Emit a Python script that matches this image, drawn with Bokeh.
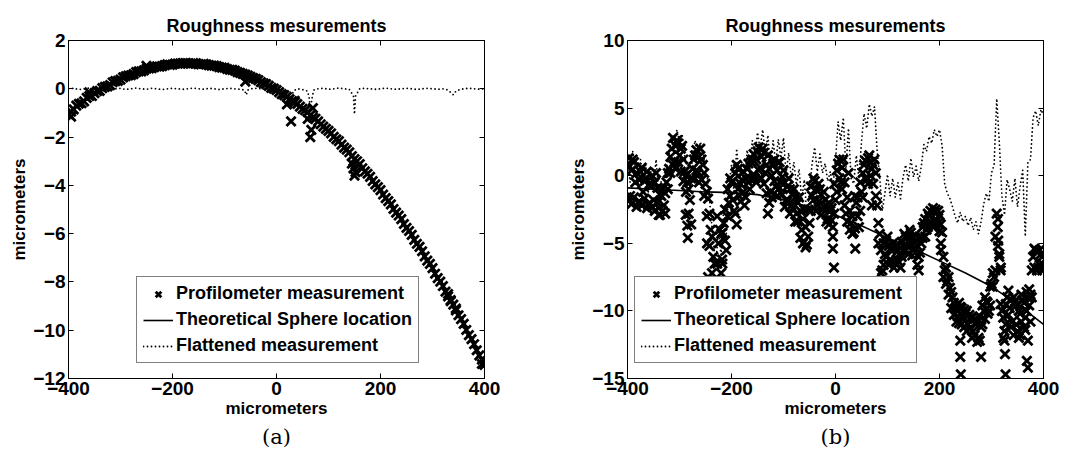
from bokeh.plotting import figure
from bokeh.models import Range1d, LinearAxis, FixedTicker, Legend, LegendItem, Title
from bokeh.layouts import row
from bokeh.embed import file_html
from bokeh.resources import INLINE

FONT = "Liberation Sans"
MINUS = "\u2212"

# ---------------- Panel (a) data ----------------
a_meas_x = list(range(-400, 401, 10))
a_meas_y = [-1.05, -0.85, -0.62, -0.52, -0.30, -0.18, -0.09, 0.08, 0.15, 0.32,
            0.38, 0.52, 0.56, 0.69, 0.72, 0.83, 0.85, 0.93, 0.94, 1.01,
            1.00, 1.04, 1.06, 1.04, 1.06, 1.02, 1.03, 0.98, 0.96, 0.90,
            0.87, 0.79, 0.75, 0.66, 0.59, 0.49, 0.41, 0.28, 0.19, 0.04,
            -0.05, -0.22, -0.33, -0.51, -0.63, -0.83, -0.97, -1.19, -1.35, -1.57,
            -1.74, -1.99, -2.17, -2.44, -2.63, -2.91, -3.12, -3.42, -3.65, -3.96,
            -4.20, -4.53, -4.79, -5.13, -5.40, -5.76, -6.05, -6.42, -6.73, -7.12,
            -7.43, -7.84, -8.17, -8.60, -8.94, -9.38, -9.74, -10.20, -10.58, -11.04,
            -11.44]
a_meas2_x = list(range(-395, 400, 10))
a_meas2_y = [-0.95, -0.70, -0.60, -0.38, -0.30, -0.10, 0.03, 0.10, 0.27, 0.33,
             0.47, 0.55, 0.61, 0.72, 0.76, 0.84, 0.90, 0.92, 0.98, 0.99,
             1.04, 1.05, 1.06, 1.04, 1.05, 1.01, 1.01, 0.96, 0.94, 0.88,
             0.82, 0.78, 0.69, 0.62, 0.55, 0.44, 0.36, 0.23, 0.12, 0.01,
             -0.14, -0.26, -0.43, -0.56, -0.74, -0.89, -1.10, -1.24, -1.47, -1.66,
             -1.85, -2.09, -2.31, -2.52, -2.79, -3.00, -3.29, -3.52, -3.82, -4.07,
             -4.38, -4.65, -4.98, -5.25, -5.60, -5.89, -6.26, -6.55, -6.94, -7.25,
             -7.66, -7.99, -8.40, -8.75, -9.18, -9.54, -9.99, -10.37, -10.83, -11.22]
a_extra_x = [-395, -360, -250, -60, 20, 28, 35, 60, 65, 67, 70, 145, 148, 150, 152, 330, 335, 345, 395]
a_extra_y = [-1.15, -0.15, 0.95, 0.30, -0.65, -1.35, -0.50, -1.25, -2.00, -1.70, -0.80, -3.10, -3.30,
             -3.60, -3.45, -8.50, -8.80, -9.10, -11.40]

a_theory_x = list(range(-400, 401, 25))
a_theory_y = [-0.99, -0.57, -0.20, 0.13, 0.40, 0.63, 0.80, 0.93, 1.02, 1.05, 1.03, 0.97, 0.86,
              0.70, 0.50, 0.24, -0.06, -0.41, -0.81, -1.26, -1.76, -2.30, -2.89, -3.53, -4.22,
              -4.96, -5.74, -6.57, -7.45, -8.38, -9.36, -10.39, -11.46]

a_flat_x = [-400, -390, -380, -370, -360, -350, -340, -330, -320, -310, -300, -290, -280, -270,
            -260, -250, -240, -230, -220, -210, -200, -190, -180, -170, -160, -150, -140, -130,
            -120, -110, -100, -90, -80, -70, -62, -58, -55, -50, -40, -30, -20, -10, 0, 10, 20,
            25, 28, 32, 40, 50, 60, 63, 65, 67, 69, 72, 80, 90, 100, 110, 120, 130, 140, 148,
            150, 152, 160, 170, 180, 190, 200, 210, 220, 230, 240, 250, 260, 270, 280, 290, 300,
            310, 320, 330, 335, 340, 345, 350, 360, 370, 380, 390, 400]
a_flat_y = [0.0, 0.02, -0.03, 0.0, 0.03, -0.02, 0.0, 0.02, -0.02, 0.0, 0.02, -0.03, 0.0, 0.03,
            0.0, -0.02, 0.02, 0.0, -0.03, 0.0, 0.02, 0.0, -0.02, 0.0, 0.03, 0.0, -0.02, 0.02,
            0.0, -0.03, 0.0, 0.02, 0.0, -0.02, -0.05, -0.25, -0.05, 0.0, 0.02, 0.0, -0.02, 0.0,
            0.02, -0.05, -0.15, -0.35, -0.55, -0.1, 0.0, -0.03, -0.1, -0.4, -0.95, -0.6, -0.3,
            -0.05, 0.0, 0.02, -0.02, 0.0, 0.03, 0.0, -0.02, -0.3, -1.05, -0.3, 0.0, 0.02, 0.0,
            -0.02, 0.0, 0.03, 0.0, -0.02, 0.0, 0.02, 0.0, -0.03, 0.0, 0.02, 0.0, -0.02, 0.0,
            -0.05, -0.15, -0.25, -0.1, -0.05, 0.0, 0.02, 0.0, -0.02, 0.0]

# ---------------- Panel (b) data ----------------
b_meas_x = list(range(-400, 401, 5))
b_meas_y = [0.8, -1.5, 1.2, -0.5, -2.0, 0.3, -1.2, -0.2, -2.2, -0.8,
            -1.8, 0.2, -2.4, -1.5, -2.2, -0.5, 0.5, 2.0, 1.0, 2.6,
            1.5, 2.2, 0.3, -0.5, -1.8, 0.5, 1.5, 0.2, 2.0, 0.8,
            -0.6, -1.7, -4.0, -6.0, -7.8, -5.0, -7.2, -3.5, -5.5, -2.0,
            -0.5, -2.6, 0.8, -1.5, -0.3, -2.2, 0.5, -1.0, 1.2, -0.2,
            1.8, 0.6, 2.0, 0.2, 1.5, -1.2, 0.9, -0.8, 1.0, -0.5,
            0.4, -1.8, -0.2, -2.2, -1.0, -2.8, -1.6, -4.0, -2.5, -5.1,
            -3.5, -1.5, -0.4, -2.2, -1.0, -2.5, -1.8, -3.2, -2.6, -3.8,
            -1.8, 0.9, -0.5, 1.2, -2.8, 0.2, -3.5, -4.2, -2.0, -3.8,
            -1.2, 0.8, -0.3, 1.5, 0.5, 1.2, -2.2, -4.3, -7.0, -5.8,
            -4.5, -6.2, -5.0, -6.5, -5.5, -6.8, -5.2, -4.5, -5.8, -4.2,
            -5.5, -4.8, -6.0, -5.0, -3.5, -4.0, -3.0, -3.6, -2.7, -3.3,
            -2.9, -4.2, -7.0, -7.8, -8.3, -9.0, -9.8, -10.4, -9.7, -10.5,
            -10.2, -11.0, -10.5, -11.5, -11.0, -12.0, -11.2, -10.0, -9.3, -10.0,
            -8.0, -7.5, -2.8, -6.0, -10.0, -11.5, -9.0, -9.8, -10.8, -9.3,
            -11.5, -10.2, -9.2, -10.5, -9.0, -8.8, -6.0, -5.5, -6.8, -5.8,
            -6.6]
b_half_x = [v + 2.5 for v in range(-400, 400, 5)]
b_hi_y = [1.3, 0.4, 1.0, 0.2, -0.3, 0.6, -0.4, 0.3, -0.6, 0.0,
          -0.5, -0.9, -1.4, -1.0, -1.3, 0.2, 1.4, 2.8, 2.2, 2.4,
          2.0, 1.2, 0.0, -1.0, -0.2, 1.2, 1.9, 1.4, 1.2, 0.2,
          -1.2, -2.8, -4.5, -6.5, -3.0, -4.0, -4.2, -2.5, -1.0, -0.2,
          -0.4, 0.2, 0.5, -0.6, 0.3, -0.2, 0.9, 1.0, 1.6, 1.2,
          2.1, 1.4, 1.7, 0.8, 0.5, 0.0, 1.2, 0.4, 1.0, -0.1,
          -0.5, -0.8, -1.0, -1.4, -1.6, -2.0, -2.6, -3.2, -3.8, -2.5,
          -0.8, -0.2, -1.0, -0.6, -1.4, -1.2, -2.2, -2.0, -2.4, -0.6,
          0.4, 1.2, 0.6, -0.5, -1.6, -2.6, -3.0, -1.5, -1.6, -0.5,
          0.2, 1.1, 1.3, 1.0, 0.8, 0.2, -3.5, -5.5, -5.0, -4.8,
          -5.2, -5.5, -5.4, -5.1, -5.8, -4.9, -4.3, -4.6, -4.0, -4.5,
          -4.4, -5.2, -4.6, -3.8, -3.2, -2.8, -2.6, -2.4, -2.5, -2.6,
          -3.6, -6.0, -6.8, -7.5, -8.6, -9.4, -9.6, -9.4, -9.8, -9.9,
          -10.0, -10.3, -10.5, -10.6, -10.8, -10.4, -9.6, -9.0, -9.4, -8.2,
          -7.2, -4.5, -3.2, -7.0, -10.5, -9.5, -8.5, -9.2, -9.0, -9.6,
          -10.0, -8.8, -9.4, -8.6, -8.4, -7.0, -5.4, -5.6, -5.5, -6.0]
b_lo_y = [-1.8, -2.1, -1.6, -2.3, -1.9, -2.2, -1.7, -2.4, -2.0, -2.3,
          -2.6, -2.0, -2.9, -2.6, -2.8, -1.0, 0.2, 0.8, 0.5, 1.0,
          0.3, -0.4, -1.2, -2.8, -3.6, -0.3, 0.4, -0.5, -0.3, -1.5,
          -3.0, -5.2, -7.2, -7.9, -6.5, -7.8, -6.5, -4.8, -3.0, -1.5,
          -1.8, -2.8, -1.0, -1.9, -1.2, -1.6, -0.5, -0.3, 0.1, -0.5,
          0.4, -0.2, -0.6, -1.3, -2.0, -1.6, -0.4, -1.5, -0.9, -1.4,
          -2.3, -1.9, -2.8, -2.4, -3.4, -3.4, -4.6, -5.0, -5.3, -4.5,
          -2.6, -1.8, -2.6, -1.9, -2.9, -2.3, -3.4, -3.6, -3.3, -2.8,
          -1.2, -0.2, -1.0, -2.2, -3.4, -4.0, -4.3, -3.9, -3.0, -2.6,
          -1.6, -0.2, -0.6, 0.0, -0.6, -1.5, -5.0, -7.2, -6.6, -6.0,
          -6.6, -6.3, -6.8, -6.2, -6.4, -6.0, -5.6, -5.2, -5.0, -5.9,
          -5.3, -6.6, -5.7, -4.6, -4.5, -3.8, -3.4, -3.8, -3.6, -3.5,
          -5.0, -7.5, -8.0, -8.8, -9.8, -10.3, -10.8, -10.9, -11.0, -11.2,
          -11.5, -11.3, -12.0, -11.8, -12.3, -12.2, -11.0, -10.6, -10.2, -9.6,
          -8.2, -7.0, -5.2, -9.5, -12.0, -11.0, -10.3, -11.2, -11.8, -11.0,
          -12.0, -10.8, -11.2, -10.0, -9.6, -9.0, -6.8, -7.0, -6.6, -7.0]
b_extra_x = [-340, -288, -285, -284, -247, -245, -220, -218, -190, -130, -5, -5, -3, 38, 70,
             160, 200, 203, 240, 240, 241, 280, 312, 313, 315, 318, 325, 326, 327, 355, 365,
             368, 370, 370, 375]
b_extra_y = [-2.9, -2.9, -3.7, -4.6, -5.0, -7.5, -4.3, -6.2, -3.6, -2.8, -4.5, -5.4, -6.8, -5.4,
             -2.2, -7.0, -4.1, -5.5, -12.2, -13.4, -14.7, -13.4, -3.8, -4.8, -5.8, -6.8, -12.2,
             -13.2, -14.7, -11.8, -11.4, -13.7, -12.2, -14.2, -10.8]

b_theory_x = list(range(-400, 401, 50))
b_theory_y = [-0.9, -1.0, -1.1, -1.2, -1.25, -1.4, -1.8, -2.3, -2.9, -3.7, -4.6, -5.4, -6.3,
              -7.2, -8.2, -9.5, -11.0]

b_flat_x = list(range(-400, 401, 5))
b_flat_y = [1.6, -0.5, 1.8, 0.5, -1.0, 1.2, -0.2, 0.8, -1.2, 0.3,
            -0.8, 1.2, -1.3, -0.4, -1.1, 0.6, 1.6, 3.0, 2.1, 3.4,
            2.5, 3.1, 1.4, 0.6, -0.7, 1.6, 2.6, 1.4, 2.5, 1.9,
            0.6, -0.5, -2.8, -4.8, -6.6, -3.8, -6.0, -2.3, -4.3, -0.8,
            0.8, -1.3, 2.0, -0.2, 1.0, -0.8, 1.9, 0.4, 2.6, 1.2,
            3.2, 2.0, 3.4, 1.7, 3.0, 0.4, 2.6, 0.9, 2.7, 1.3,
            2.8, 0.1, 1.7, -0.2, 1.0, -0.7, 0.5, -1.8, -0.3, -2.9,
            -1.2, 0.9, 2.1, 0.3, 1.6, 0.2, 0.9, -0.4, 0.3, -0.9,
            1.1, 4.0, 2.6, 4.3, 0.5, 3.5, -0.2, -0.6, 1.5, -0.2,
            2.5, 4.6, 3.5, 5.3, 4.4, 5.1, 1.9, -0.1, -2.6, -1.3,
            0.1, -1.5, -0.2, -1.6, -0.5, -1.7, -0.1, 0.8, -0.4, 1.3,
            -0.1, 0.7, -0.4, 0.7, 2.3, 1.8, 2.9, 2.4, 3.4, 2.9,
            3.4, 2.2, -0.6, -1.3, -1.7, -2.3, -3.0, -3.5, -2.7, -3.4,
            -3.0, -3.7, -3.1, -4.0, -3.4, -4.3, -3.4, -2.1, -1.3, -1.9,
            0.2, 0.8, 5.7, 2.5, -1.5, -2.9, -0.3, -1.0, -1.9, -0.2,
            -2.3, -0.8, 0.4, -4.5, 1.0, 1.2, 4.3, 4.8, 3.7, 4.9,
            4.5]

x_ticks = [-400, -200, 0, 200, 400]
a_y_ticks = [-12, -10, -8, -6, -4, -2, 0, 2]
b_y_ticks = [-15, -10, -5, 0, 5, 10]
title_text = "Roughness mesurements"
axis_text = "micrometers"
legend_labels = ["Profilometer measurement", "Theoretical Sphere location", "Flattened measurement"]


def fmt(v):
    return (MINUS + str(abs(v))) if v < 0 else str(v)


def style_axis(ax, ticks, labels=True, hidden_size="1px"):
    ax.ticker = FixedTicker(ticks=ticks)
    ax.major_tick_in = 5
    ax.major_tick_out = 0
    ax.minor_tick_line_color = None
    ax.axis_line_color = "black"
    ax.major_tick_line_color = "black"
    if labels:
        ax.major_label_overrides = {t: fmt(t) for t in ticks}
        ax.major_label_text_font = FONT
        ax.major_label_text_font_style = "bold"
        ax.major_label_text_font_size = "19px"
        ax.major_label_text_color = "black"
        ax.major_label_standoff = 3
        ax.axis_label_text_font = FONT
        ax.axis_label_text_font_style = "bold"
        ax.axis_label_text_font_size = "17px"
        ax.axis_label_text_color = "black"
        ax.axis_label_standoff = 1
    else:
        ax.major_label_text_font_size = hidden_size
        ax.major_label_text_color = None
        ax.major_label_standoff = 0


def panel(m1x, m1y, m2x, m2y, m3x, m3y, ex_x, ex_y, th_x, th_y, fl_x, fl_y, yr, yticks,
          caption, border_left, border_right, legend_loc):
    p = figure(width=border_left + 416 + border_right, height=474,
               x_range=Range1d(-400, 400), y_range=Range1d(*yr),
               output_backend="svg", toolbar_location=None,
               min_border_left=border_left, min_border_right=border_right,
               min_border_top=40, min_border_bottom=96)
    p.xgrid.grid_line_color = None
    p.ygrid.grid_line_color = None
    p.outline_line_color = "black"
    p.background_fill_color = "white"
    p.border_fill_color = "white"

    p.title.text = title_text
    p.title.align = "center"
    p.title.text_font = FONT
    p.title.text_font_style = "bold"
    p.title.text_font_size = "18px"
    p.title.text_color = "black"
    p.title.standoff = 10

    style_axis(p.xaxis[0], x_ticks)
    style_axis(p.yaxis[0], yticks)
    p.xaxis[0].axis_label = axis_text
    p.yaxis[0].axis_label = axis_text

    top = LinearAxis()
    style_axis(top, x_ticks, labels=False, hidden_size="7px")
    p.add_layout(top, "above")
    right = LinearAxis()
    style_axis(right, yticks, labels=False)
    p.add_layout(right, "right")

    mk = dict(marker="x", size=13, line_width=2.8, color="black")
    r1 = p.scatter(m1x, m1y, **mk)
    p.scatter(m2x, m2y, **mk)
    if m3x is not None:
        p.scatter(m3x, m3y, **mk)
    p.scatter(ex_x, ex_y, **mk)
    r2 = p.line(th_x, th_y, line_width=1.6, color="black")
    r3 = p.line(fl_x, fl_y, line_width=1.8, color="black", line_dash="0 4", line_cap="round")

    leg = Legend(items=[LegendItem(label=legend_labels[0], renderers=[r1]),
                        LegendItem(label=legend_labels[1], renderers=[r2]),
                        LegendItem(label=legend_labels[2], renderers=[r3])],
                 location=legend_loc)
    leg.border_line_color = "black"
    leg.border_line_width = 1
    leg.background_fill_alpha = 1.0
    leg.label_text_font = FONT
    leg.label_text_font_style = "bold"
    leg.label_text_font_size = "18px"
    leg.label_text_color = "black"
    leg.glyph_width = 30
    leg.glyph_height = 20
    leg.label_height = 20
    leg.spacing = 5
    leg.padding = 6
    leg.margin = 0
    leg.label_standoff = 3
    p.add_layout(leg)

    cap = Title(text=caption, align="center", text_font="DejaVu Serif", text_color="black",
                text_font_size="21px", text_font_style="normal", standoff=4)
    p.add_layout(cap, "below")
    return p


pa = panel(a_meas_x, a_meas_y, a_meas2_x, a_meas2_y, None, None, a_extra_x, a_extra_y,
           a_theory_x, a_theory_y, a_flat_x, a_flat_y, (-12, 2), a_y_ticks, "(a)", 68, 56, (68, 15))
pb = panel(b_meas_x, b_meas_y, b_half_x, b_hi_y, b_half_x, b_lo_y, b_extra_x, b_extra_y,
           b_theory_x, b_theory_y, b_flat_x, b_flat_y, (-15, 10), b_y_ticks, "(b)", 87, 38, (7, 15))

layout = row(pa, pb, spacing=0)
open("out.html", "w").write(file_html(layout, INLINE))
